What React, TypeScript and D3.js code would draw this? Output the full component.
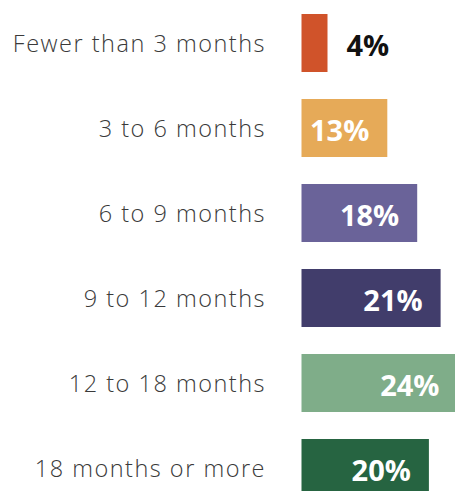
import React from "react";
import * as d3 from "d3";

const categories = [
  "Fewer than 3 months",
  "3 to 6 months",
  "6 to 9 months",
  "9 to 12 months",
  "12 to 18 months",
  "18 months or more",
];
const values = [4, 13.2, 17.8, 21.4, 24, 19.6];
const valueLabels = ["4%", "13%", "18%", "21%", "24%", "20%"];
const colors = ["#d0532a", "#e6aa58", "#6a6399", "#413d6b", "#7fad89", "#266441"];

const W = 455;
const H = 491;

export default function App() {
  const x = d3.scaleLinear().domain([0, 1]).range([301.5, 301.5 + 6.5]);
  const xs = (v: number) => x(v) - x(0);
  const y = d3
    .scaleBand<string>()
    .domain(categories)
    .range([14 - 13.5, 14 - 13.5 + 85 * 6])
    .paddingInner(27 / 85)
    .paddingOuter(13.5 / 85);
  return (
    <svg
      width={W}
      height={H}
      style={{ position: "absolute", left: 0, top: 0, display: "block" }}
    >
      {categories.map((c, i) => {
        const y0 = y(c)!;
        const bh = y.bandwidth();
        const cy = y0 + bh / 2;
        const w = xs(values[i]);
        const inside = i !== 0;
        return (
          <g key={c}>
            <rect x={x(0)} y={y0} width={w} height={bh} fill={colors[i]} />
            <text
              x={266}
              y={cy + 9}
              textAnchor="end"
              fontFamily="'Open Sans', sans-serif"
              fontWeight={300}
              fontSize={23.5}
              letterSpacing={1.5}
              fill="#3a3a3a"
            >
              {c}
            </text>
            <text
              x={inside ? x(0) + w - 18 : x(0) + w + 19}
              y={cy + 12.5}
              textAnchor={inside ? "end" : "start"}
              fontFamily="'Open Sans', sans-serif"
              fontWeight={700}
              fontSize={29}
              fill={inside ? "#ffffff" : "#111111"}
            >
              {valueLabels[i]}
            </text>
          </g>
        );
      })}
    </svg>
  );
}
